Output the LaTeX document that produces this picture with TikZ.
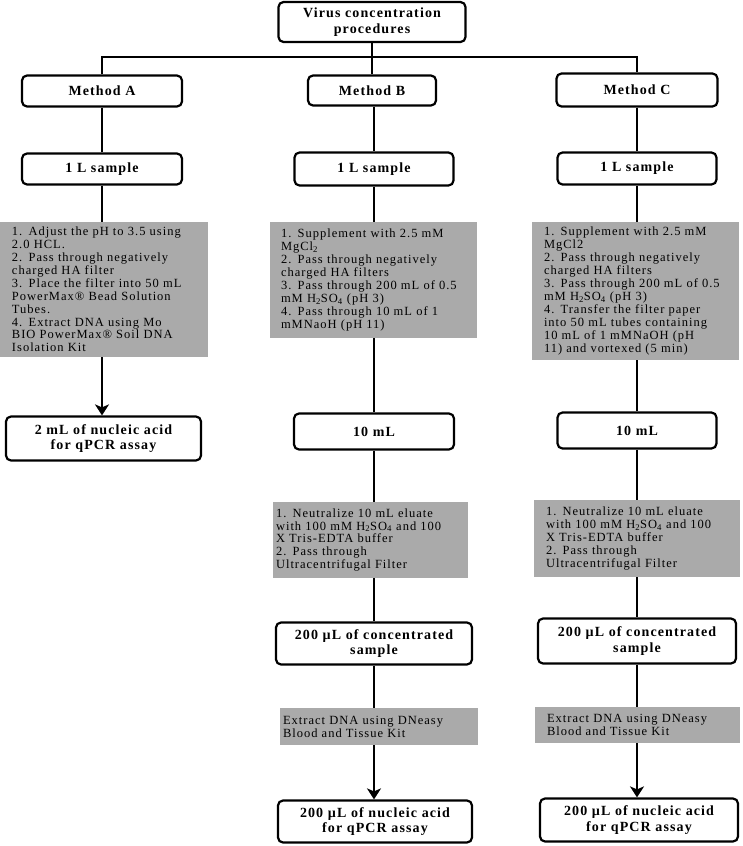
\documentclass[tikz,border=0pt]{standalone}
\usepackage{fontspec}
\setmainfont{Liberation Serif}
\newfontfamily\wfont[LetterSpace=8]{Liberation Serif}
\newfontfamily\gfont[LetterSpace=8]{Liberation Serif}
\usetikzlibrary{arrows.meta}
\definecolor{greyfill}{RGB}{170,170,170}
\begin{document}
\begin{tikzpicture}[x=1pt,y=-1pt,
  wbox/.style={draw, line width=2.2pt, rounded corners=5pt, fill=white, align=center,
    font=\wfont\bfseries\fontsize{14}{15.5}\selectfont, inner sep=0pt},
  wsize/.style 2 args={minimum width=#1pt, minimum height=#2pt},
  gbox/.style={fill=greyfill, align=left, font=\gfont\fontsize{12.5}{12.9}\selectfont, inner ysep=0pt},
  gsize/.style n args={3}{text width=#1pt-2*#3pt, inner xsep=#3pt, minimum height=#2pt},
  link/.style={line width=2.8pt},
  arr/.style={link, -{Stealth[length=11pt,width=14pt,inset=3pt]}}]
\useasboundingbox (0,0) rectangle (742,846);
\coordinate (hl) at (0,57);
% top
\node[wbox, wsize={187}{40}] (top) at (372,22) {Virus concentration\\procedures};
% methods
\node[wbox, wsize={160}{31}] (mA) at (102,91) {Method A};
\node[wbox, wsize={128}{30}] (mB) at (372,90.5) {Method B};
\node[wbox, wsize={161}{33}] (mC) at (637,90) {Method C};
% samples
\node[wbox, wsize={160}{31}] (sA) at (102,169) {1 L sample};
\node[wbox, wsize={159}{33}] (sB) at (374,169) {1 L sample};
\node[wbox, wsize={159}{32}] (sC) at (637,168.5) {1 L sample};
% first grey boxes
\node[gbox, gsize={208}{135}{12}] (gA) at (104,289.5) {1. Adjust the pH to 3.5 using\\2.0 HCL.\\2. Pass through negatively\\charged HA filter\\3. Place the filter into 50 mL\\PowerMax® Bead Solution\\Tubes.\\4. Extract DNA using Mo\\BIO PowerMax® Soil DNA\\Isolation Kit};
\node[gbox, gsize={207}{116}{11}] (gB1) at (373.5,280) {1. Supplement with 2.5 mM\\MgCl\textsubscript{2}\\2. Pass through negatively\\charged HA filters\\3. Pass through 200 mL of 0.5\\mM H\textsubscript{2}SO\textsubscript{4} (pH 3)\\4. Pass through 10 mL of 1\\mMNaoH (pH 11)};
\node[gbox, gsize={207}{138}{12}] (gC1) at (635.5,291) {1. Supplement with 2.5 mM\\MgCl2\\2. Pass through negatively\\charged HA filters\\3. Pass through 200 mL of 0.5\\mM H\textsubscript{2}SO\textsubscript{4} (pH 3)\\4. Transfer the filter paper\\into 50 mL tubes containing\\10 mL of 1 mMNaOH (pH\\11) and vortexed (5 min)};
% A final
\node[wbox, wsize={195}{44}] (fA) at (103.5,438.5) {2 mL of nucleic acid\\for qPCR assay};
% 10 mL
\node[wbox, wsize={160}{36}] (tB) at (374,431.5) {10 mL};
\node[wbox, wsize={159}{36}] (tC) at (637,430.5) {10 mL};
% second grey
\node[gbox, gsize={195}{76}{3}] (gB2) at (370.5,540) {1. Neutralize 10 mL eluate\\with 100 mM H\textsubscript{2}SO\textsubscript{4} and 100\\X Tris-EDTA buffer\\2. Pass through\\Ultracentrifugal Filter};
\node[gbox, gsize={206}{77}{12}] (gC2) at (637,538.5) {1. Neutralize 10 mL eluate\\with 100 mM H\textsubscript{2}SO\textsubscript{4} and 100\\X Tris-EDTA buffer\\2. Pass through\\Ultracentrifugal Filter};
% concentrated
\node[wbox, wsize={196}{42}] (cB) at (374,643.5) {200 µL of concentrated\\sample};
\node[wbox, wsize={198}{45}] (cC) at (637,641) {200 µL of concentrated\\sample};
% third grey
\node[gbox, gsize={198}{37}{3}] (gB3) at (379,726.5) {Extract DNA using DNeasy\\Blood and Tissue Kit};
\node[gbox, gsize={205}{36}{12}] (gC3) at (637.5,725) {Extract DNA using DNeasy\\Blood and Tissue Kit};
% finals
\node[wbox, wsize={194}{42}] (fB) at (375,821.5) {200 µL of nucleic acid\\for qPCR assay};
\node[wbox, wsize={198}{43}] (fC) at (639,820) {200 µL of nucleic acid\\for qPCR assay};
% connectors: tree
\draw[link] (top.south) -- (mB.north);
\draw[link] (mA.north) -- (mA.north |- hl) -| (mC.north);
% column A
\draw[link] (mA.south) -- (sA.north);
\draw[link] (sA.south) -- (sA.south |- gA.north);
\draw[arr] (sA.south |- gA.south) -- (sA.south |- fA.north);
% column B
\draw[link] (sB.north |- mB.south) -- (sB.north);
\draw[link] (sB.south) -- (sB.south |- gB1.north);
\draw[link] (tB.north |- gB1.south) -- (tB.north);
\draw[link] (tB.south) -- (tB.south |- gB2.north);
\draw[link] (cB.north |- gB2.south) -- (cB.north);
\draw[link] (cB.south) -- (cB.south |- gB3.north);
\draw[arr] (cB.south |- gB3.south) -- (cB.south |- fB.north);
% column C
\draw[link] (mC.south) -- (sC.north);
\draw[link] (sC.south) -- (sC.south |- gC1.north);
\draw[link] (tC.north |- gC1.south) -- (tC.north);
\draw[link] (tC.south) -- (tC.south |- gC2.north);
\draw[link] (cC.north |- gC2.south) -- (cC.north);
\draw[link] (cC.south) -- (cC.south |- gC3.north);
\draw[arr] (cC.south |- gC3.south) -- (cC.south |- fC.north);
\end{tikzpicture}
\end{document}
